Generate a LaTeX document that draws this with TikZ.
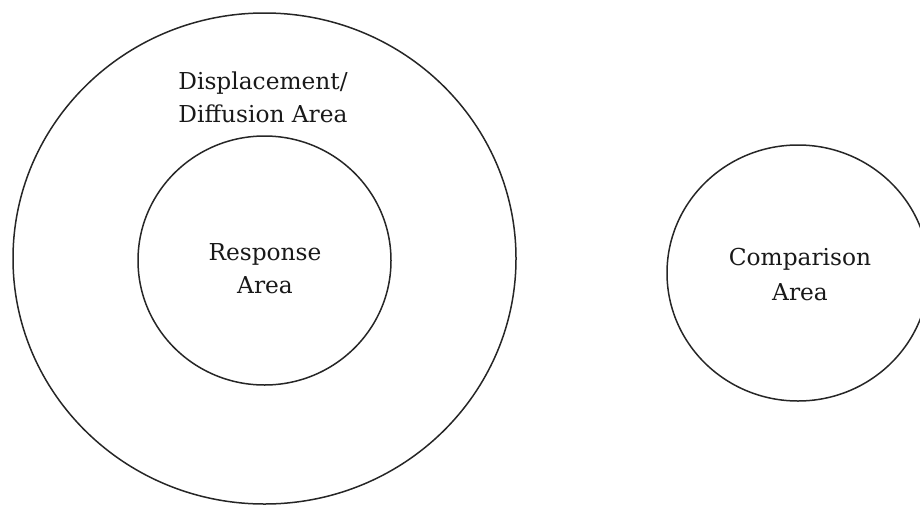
\documentclass[tikz,border=0pt]{standalone}
\usepackage{fontspec}
\setmainfont{DejaVu Serif}
\usetikzlibrary{shapes.geometric}
\begin{document}
\begin{tikzpicture}[x=1pt,y=-1pt,
  ring/.style={draw=black!85, line width=1.5pt, ellipse, inner sep=0pt},
  lbl/.style={align=center, inner sep=0pt, anchor=base, text=black!90,
    font=\fontsize{23.3pt}{32.5pt}\selectfont}]
\useasboundingbox (0,0) rectangle (920,506);
\begin{scope}
\clip (0,0) rectangle (920,506);
\node[ring, minimum width=503pt, minimum height=491pt] (outer) at (264.5,258.5) {};
\node[ring, minimum width=253pt, minimum height=249pt] (inner) at (264.5,260.5) {};
\node[ring, minimum width=262pt, minimum height=256pt] (comp) at (798,273) {};
\end{scope}
\node[lbl] (displ) at (263,122) {Displacement/\\Diffusion Area};
\node[lbl] (resp) at (265,293) {Response\\Area};
\node[lbl, font=\fontsize{23.3pt}{35pt}\selectfont] (compl) at (800,300) {Comparison\\Area};
\end{tikzpicture}
\end{document}
